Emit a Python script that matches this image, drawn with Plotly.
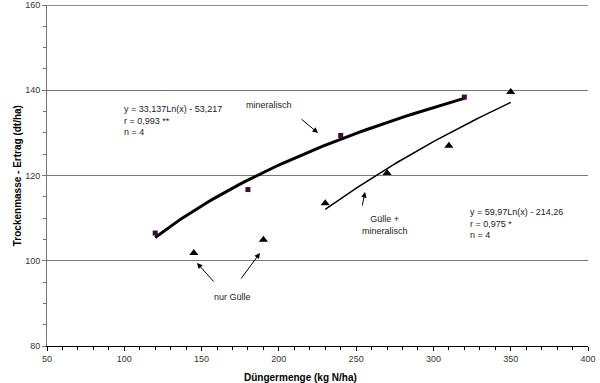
import numpy as np
import plotly.graph_objects as go

# ---- data ----
min_x = [120, 180, 240, 320]
min_y = [106.5, 116.7, 129.4, 138.4]

gm_x = [230, 270, 310, 350]
gm_y = [113.5, 120.6, 127.0, 139.6]

nur_x = [145, 190]
nur_y = [101.8, 104.9]

eq_min = ["y = 33,137Ln(x) - 53,217", "r = 0,993 **", "n = 4"]
eq_gm = ["y = 59,97Ln(x) - 214,26", "r = 0,975 *", "n = 4"]

x_title = "Düngermenge (kg N/ha)"
y_title = "Trockenmasse - Ertrag (dt/ha)"

FONT = "Liberation Sans, Arial, sans-serif"


def log_trend(xs, ys, n=60):
    b, a = np.polyfit(np.log(xs), ys, 1)
    xx = np.linspace(min(xs), max(xs), n)
    return xx, b * np.log(xx) + a


fig = go.Figure()

tx, ty = log_trend(min_x, min_y)
fig.add_trace(go.Scatter(x=tx, y=ty, mode="lines",
                         line=dict(color="black", width=3), hoverinfo="skip"))
tx2, ty2 = log_trend(gm_x, gm_y)
fig.add_trace(go.Scatter(x=tx2, y=ty2, mode="lines",
                         line=dict(color="black", width=1.5), hoverinfo="skip"))

fig.add_trace(go.Scatter(x=min_x, y=min_y, mode="markers",
                         marker=dict(symbol="square", size=5, color="#3a0c3a")))
fig.add_trace(go.Scatter(x=gm_x, y=gm_y, mode="markers",
                         marker=dict(symbol="triangle-up", size=8, color="black")))
fig.add_trace(go.Scatter(x=nur_x, y=nur_y, mode="markers",
                         marker=dict(symbol="triangle-up", size=8, color="black")))

# pixel -> data helpers for annotation placement
def dx(px):
    return 50 + (px - 47) * 350 / 541

def dy(py):
    return 160 - (py - 5) * 80 / 341

ann = []
tf = dict(family=FONT, size=9, color="#222")
ann.append(dict(x=dx(122), y=dy(102), xref="x", yref="y", text="<br>".join(eq_min),
                showarrow=False, xanchor="left", yanchor="top", align="left", font=tf))
ann.append(dict(x=dx(468), y=dy(205), xref="x", yref="y", text="<br>".join(eq_gm),
                showarrow=False, xanchor="left", yanchor="top", align="left", font=tf))
ann.append(dict(x=dx(269), y=dy(105), xref="x", yref="y", text="mineralisch",
                showarrow=False, font=tf))
ann.append(dict(x=dx(232), y=dy(297), xref="x", yref="y", text="nur Gülle",
                showarrow=False, font=tf))
ann.append(dict(x=dx(385), y=dy(225), xref="x", yref="y", text="Gülle +<br>mineralisch",
                showarrow=False, font=tf, align="center"))

arrows = [((318, 133), (300, 118)),
          ((197, 263), (215, 283)),
          ((260, 253), (240, 280)),
          ((365, 192), (362, 207))]
for (hx, hy), (tx_, ty_) in arrows:
    ann.append(dict(x=dx(hx), y=dy(hy), xref="x", yref="y", text="",
                    showarrow=True, ax=tx_ - hx, ay=ty_ - hy,
                    arrowhead=2, arrowsize=1.1, arrowwidth=1, arrowcolor="black"))

ann.append(dict(x=dx(300), y=-0.07, xref="x", yref="paper", text="<b>" + x_title + "</b>",
                showarrow=False, yanchor="top", font=dict(family=FONT, size=10, color="black")))
ann.append(dict(x=-0.068, y=0.5, xref="paper", yref="paper", text="<b>" + y_title + "</b>",
                showarrow=False, textangle=-90, font=dict(family=FONT, size=10, color="black")))

fig.update_layout(
    width=600, height=383,
    margin=dict(l=47, r=12, t=5, b=37, autoexpand=False),
    paper_bgcolor="white", plot_bgcolor="white",
    showlegend=False,
    annotations=ann,
    font=dict(family=FONT, size=9, color="#333"),
    shapes=[dict(type="line", xref="paper", x0=0, x1=1, yref="y", y0=160, y1=160,
                 line=dict(color="#666", width=1.5), layer="below")],
)
fig.update_xaxes(range=[50, 400], tickvals=list(range(50, 401, 50)),
                 automargin=False,
                 showgrid=False, zeroline=False,
                 showline=True, linecolor="black", linewidth=1,
                 ticks="outside", ticklen=4, tickcolor="black",
                 minor=dict(dtick=10, ticks="outside", ticklen=3, tickcolor="black"),
                 tickfont=dict(family=FONT, size=9, color="#333"))
fig.update_yaxes(range=[80, 160], tickvals=list(range(80, 161, 20)),
                 automargin=False,
                 showgrid=True, gridcolor="#777", gridwidth=1, zeroline=False,
                 showline=True, linecolor="#777", linewidth=1,
                 ticks="outside", ticklen=4, tickcolor="#777",
                 minor=dict(dtick=5, ticks="outside", ticklen=3, tickcolor="#777", showgrid=False),
                 tickfont=dict(family=FONT, size=9, color="#333"))

fig.write_html("out.html",
               config={"displayModeBar": False},
               post_script="document.body.style.margin='0';document.body.style.overflow='hidden';")
